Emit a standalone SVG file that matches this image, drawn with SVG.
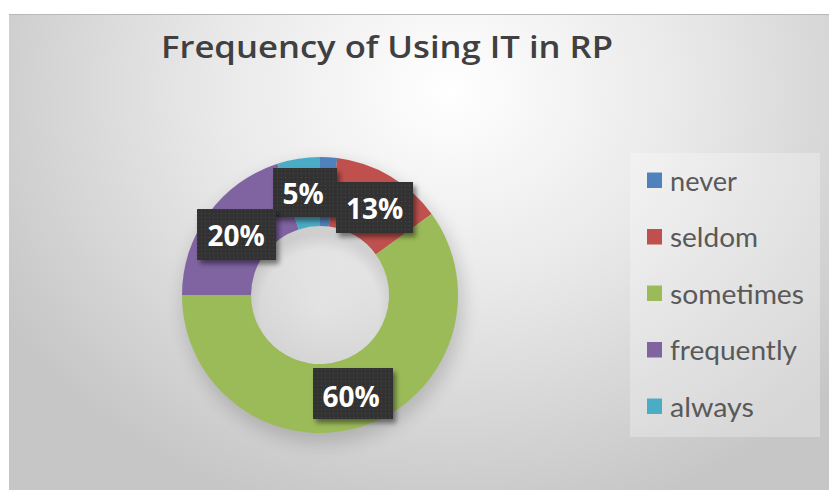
<svg xmlns="http://www.w3.org/2000/svg" width="829" height="490" viewBox="0 0 829 490">
  <defs>
    <radialGradient id="bg" gradientUnits="userSpaceOnUse" cx="450" cy="90" r="520" gradientTransform="translate(450 90) scale(1 0.85) translate(-450 -90)">
      <stop offset="0" stop-color="#ffffff"/>
      <stop offset="0.45" stop-color="#e9e9e9"/>
      <stop offset="1" stop-color="#c6c6c6"/>
    </radialGradient>
    <radialGradient id="hole" gradientUnits="userSpaceOnUse" cx="320" cy="310" r="75">
      <stop offset="0" stop-color="#000" stop-opacity="0"/>
      <stop offset="0.8" stop-color="#000" stop-opacity="0.03"/>
      <stop offset="1" stop-color="#000" stop-opacity="0.12"/>
    </radialGradient>
    <pattern id="dots" width="4" height="4" patternUnits="userSpaceOnUse">
      <rect width="4" height="4" fill="#333333"/>
      <rect x="1" y="1" width="1" height="1" fill="#4a4a4a"/>
    </pattern>
    <filter id="blur" x="-30%" y="-30%" width="160%" height="160%">
      <feGaussianBlur stdDeviation="9"/>
    </filter>
    <filter id="shadow" x="-20%" y="-20%" width="150%" height="160%">
      <feDropShadow dx="3" dy="4" stdDeviation="2.5" flood-color="#000" flood-opacity="0.45"/>
    </filter>
    <style>
      .title { font-family: "Open Sans", "Noto Sans", sans-serif; font-weight: 600; font-size: 31px; fill: #404040; }
      .lbl { font-family: "Open Sans", "Noto Sans", sans-serif; font-weight: 700; font-size: 28px; fill: #ffffff; text-anchor: middle; }
      .box { fill: url(#dots); filter: url(#shadow); }
      .leg { font-family: "Lato", "Open Sans", sans-serif; font-size: 27px; fill: #595959; }
    </style>
  </defs>

  <rect x="0" y="0" width="829" height="490" fill="#ffffff"/>
  <rect id="chart-area" x="9" y="14" width="820" height="476" fill="url(#bg)"/>
  <line x1="9" y1="14.5" x2="829" y2="14.5" stroke="#b8b8b8" stroke-width="1"/>

  <text id="title" class="title" x="161" y="58" textLength="452" lengthAdjust="spacingAndGlyphs">Frequency of Using IT in RP</text>

  <g id="donut">
    <circle cx="323" cy="303" r="140" fill="#000" opacity="0.16" filter="url(#blur)"/>
    <circle cx="320" cy="295" r="72" fill="url(#bg)"/>
    <g id="slice-never"><path d="M320,157 A138,138 0 0 1 337.30,158.09 L328.65,226.54 A69,69 0 0 0 320,226 Z" fill="#4F81BD"/></g>
    <g id="slice-seldom"><path d="M337.30,158.09 A138,138 0 0 1 431.64,213.89 L375.82,254.44 A69,69 0 0 0 328.65,226.54 Z" fill="#C0504D"/></g>
    <g id="slice-sometimes"><path d="M431.64,213.89 A138,138 0 1 1 182,295 L251,295 A69,69 0 1 0 375.82,254.44 Z" fill="#9BBB59"/></g>
    <g id="slice-frequently"><path d="M182,295 A138,138 0 0 1 277.36,163.75 L298.68,229.38 A69,69 0 0 0 251,295 Z" fill="#8064A2"/></g>
    <g id="slice-always"><path d="M277.36,163.75 A138,138 0 0 1 320,157 L320,226 A69,69 0 0 0 298.68,229.38 Z" fill="#4BACC6"/></g>
    <circle cx="320" cy="295" r="69" fill="url(#hole)"/>
  </g>

  <g id="labels">
    <g id="label-5">
      <rect class="box" x="273" y="168" width="64" height="49"/>
      <text class="lbl" x="303" y="204">5%</text>
    </g>
    <g id="label-13">
      <rect class="box" x="336" y="182" width="77" height="51"/>
      <text class="lbl" x="374.5" y="219">13%</text>
    </g>
    <g id="label-20">
      <rect class="box" x="197" y="209" width="79" height="51"/>
      <text class="lbl" x="236" y="246">20%</text>
    </g>
    <g id="label-60">
      <rect class="box" x="313" y="368" width="80" height="51"/>
      <text class="lbl" x="351" y="406.5">60%</text>
    </g>
  </g>

  <g id="legend">
    <rect x="630" y="153" width="190" height="284" fill="#ffffff" opacity="0.28"/>
    <g id="legend-never">
      <rect x="647" y="172.5" width="15" height="15.5" fill="#4F81BD"/>
      <text class="leg" x="670" y="190.5" textLength="67" lengthAdjust="spacingAndGlyphs">never</text>
    </g>
    <g id="legend-seldom">
      <rect x="647" y="229" width="15" height="15.5" fill="#C0504D"/>
      <text class="leg" x="670" y="247" textLength="88" lengthAdjust="spacingAndGlyphs">seldom</text>
    </g>
    <g id="legend-sometimes">
      <rect x="647" y="285.5" width="15" height="15.5" fill="#9BBB59"/>
      <text class="leg" x="670" y="303.5" textLength="134" lengthAdjust="spacingAndGlyphs">sometimes</text>
    </g>
    <g id="legend-frequently">
      <rect x="647" y="342" width="15" height="15.5" fill="#8064A2"/>
      <text class="leg" x="670" y="360" textLength="127" lengthAdjust="spacingAndGlyphs">frequently</text>
    </g>
    <g id="legend-always">
      <rect x="647" y="398.5" width="15" height="15.5" fill="#4BACC6"/>
      <text class="leg" x="670" y="416.5" textLength="84" lengthAdjust="spacingAndGlyphs">always</text>
    </g>
  </g>
</svg>
